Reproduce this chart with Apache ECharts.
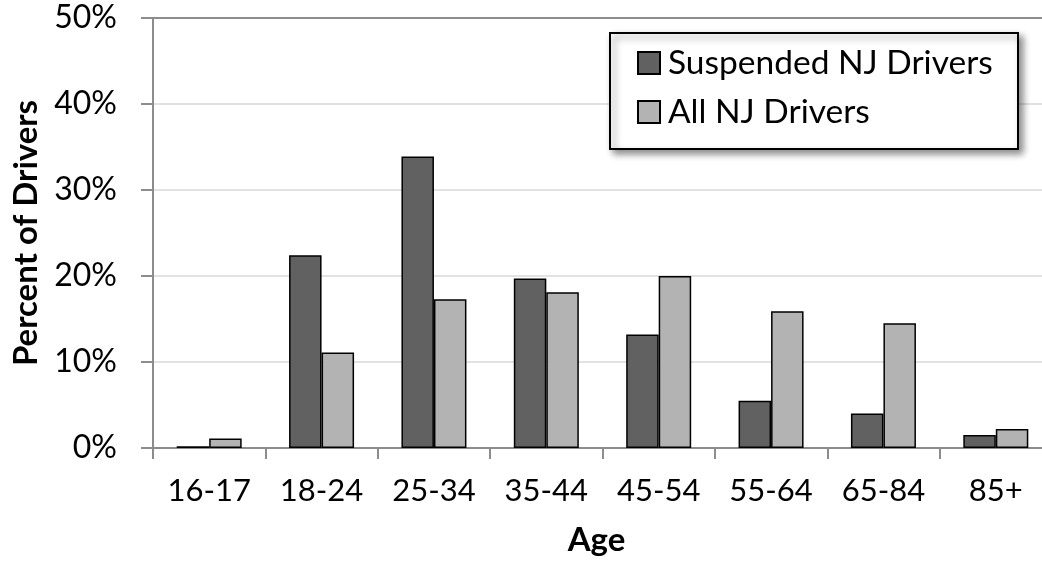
<!DOCTYPE html>
<html>
<head>
<meta charset="utf-8">
<script src="https://cdn.jsdelivr.net/npm/echarts@6/dist/echarts.min.js"></script>
<style>
  html, body { margin: 0; padding: 0; background: #ffffff; overflow: hidden; }
  #chart { width: 1052px; height: 568px; }
</style>
</head>
<body>
<div id="chart"></div>
<script>
const categories = ['16-17', '18-24', '25-34', '35-44', '45-54', '55-64', '65-84', '85+'];
const suspendedDrivers = [0.2, 22.4, 33.9, 19.7, 13.2, 5.5, 4.0, 1.5];
const allDrivers = [1.1, 11.1, 17.3, 18.1, 20.0, 15.9, 14.5, 2.2];
const seriesNames = ['Suspended NJ Drivers', 'All NJ Drivers'];

const FONT = 'Lato, "Open Sans", sans-serif';
const chart = echarts.init(document.getElementById('chart'), null, { renderer: 'canvas' });

chart.setOption({
  animation: false,
  backgroundColor: '#ffffff',
  textStyle: { fontFamily: FONT, color: '#000' },
  grid: { left: 153, right: 0, top: 18, bottom: 120, containLabel: false },
  graphic: {
    elements: [{
      type: 'rect',
      z: 3,
      shape: { x: 610, y: 33, width: 408, height: 116 },
      style: {
        fill: '#ffffff', stroke: '#000000', lineWidth: 2,
        shadowBlur: 7, shadowOffsetX: 4, shadowOffsetY: 4, shadowColor: 'rgba(0,0,0,0.45)'
      }
    }]
  },
  legend: {
    orient: 'vertical',
    left: 637,
    top: 46,
    padding: 0,
    itemGap: 15,
    itemWidth: 22,
    itemHeight: 22,
    icon: 'rect',
    z: 5,
    data: seriesNames,
    textStyle: { fontFamily: FONT, fontSize: 33.5, color: '#000', lineHeight: 32, padding: [0, 0, 0, 3] }
  },
  xAxis: [{
    type: 'category',
    data: categories,
    name: 'Age',
    nameLocation: 'middle',
    nameGap: 76,
    nameTextStyle: { fontFamily: FONT, fontSize: 33, fontWeight: 'bold', color: '#000', padding: [0, 12, 0, 0] },
    axisLine: { lineStyle: { color: '#8c8c8c', width: 2 } },
    axisTick: { show: true, interval: 0, length: 11, alignWithLabel: false, lineStyle: { color: '#8c8c8c', width: 2 } },
    axisLabel: { interval: 0, fontFamily: FONT, fontSize: 31, color: '#000', margin: 27 },
    splitLine: { show: false }
  }, {
    type: 'category',
    data: categories,
    position: 'top',
    axisLine: { show: true, lineStyle: { color: '#8c8c8c', width: 2 } },
    axisTick: { show: false },
    axisLabel: { show: false },
    splitLine: { show: false }
  }],
  yAxis: {
    type: 'value',
    min: 0,
    max: 50,
    interval: 10,
    name: 'Percent of Drivers',
    nameLocation: 'middle',
    nameGap: 109,
    nameTextStyle: { fontFamily: FONT, fontSize: 33, fontWeight: 'bold', color: '#000' },
    axisLine: { show: true, lineStyle: { color: '#8c8c8c', width: 2 } },
    axisTick: { show: true, length: 12, lineStyle: { color: '#8c8c8c', width: 2 } },
    axisLabel: { fontFamily: FONT, fontSize: 32, color: '#000', margin: 36, formatter: '{value}%' },
    splitLine: { show: true, lineStyle: { color: '#d9d9d9', width: 1.5 } }
  },
  series: [{
    name: seriesNames[0],
    type: 'bar',
    data: suspendedDrivers,
    barWidth: 32.5,
    barGap: '0%',
    itemStyle: { color: '#616161', borderColor: '#000', borderWidth: 1.5 }
  }, {
    name: seriesNames[1],
    type: 'bar',
    data: allDrivers,
    barWidth: 32.5,
    barGap: '0%',
    itemStyle: { color: '#b3b3b3', borderColor: '#000', borderWidth: 1.5 }
  }]
});
</script>
</body>
</html>
